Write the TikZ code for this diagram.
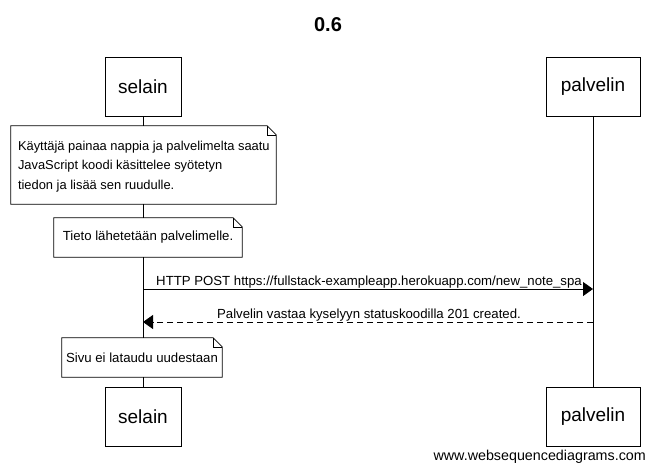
\documentclass[tikz,border=0pt]{standalone}
\usepackage{fontspec}
\setmainfont{Liberation Sans}
\usetikzlibrary{arrows.meta,calc}
\tikzset{
  actor/.style={draw, fill=white, line width=0.8pt, minimum width=76pt, minimum height=59pt, inner sep=0pt, font=\fontsize{19}{22}\selectfont},
  notebox/.style={fill=white, inner sep=0pt, font=\fontsize{13.2}{19.5}\selectfont},
  notetext/.style={inner sep=0pt, font=\fontsize{12.9}{19.5}\selectfont},
  lifeline/.style={line width=0.8pt},
  msg/.style={line width=0.8pt, -{Triangle[length=10pt,width=14pt]}},
  reply/.style={msg, dash pattern=on 6pt off 4pt},
  lbl/.style={font=\fontsize{13.2}{15}\selectfont, anchor=base, inner sep=0pt},
}
\newcommand{\notefold}[1]{%
  \draw[line width=0.8pt] (#1.north west) -- ($(#1.north east)+(-9,0)$) -- ($(#1.north east)+(0,9)$) -- (#1.south east) -- (#1.south west) -- cycle;
  \draw[line width=0.6pt] ($(#1.north east)+(-9,0)$) -- ($(#1.north east)+(-9,9)$) -- ($(#1.north east)+(0,9)$);
}
\begin{document}
\begin{tikzpicture}[x=1pt,y=-1pt]
\useasboundingbox[fill=white] (0,0) rectangle (655,471);
\node[font=\bfseries\fontsize{20}{22}\selectfont] (title) at (328,25) {0.6};
% actors
\node[actor] (s1) at (143,86.5) {selain};
\node[actor, minimum width=94pt] (p1) at (593,86.5) {palvelin};
\node[actor] (s2) at (143,416.5) {selain};
\node[actor, minimum width=94pt] (p2) at (593,416.5) {palvelin};
% lifelines
\draw[lifeline] (s1.south) -- (s2.north);
\draw[lifeline] (p1.south) -- (p2.north);
% note 1
\node[notebox, minimum width=265pt, minimum height=78pt] (n1) at (143.5,165) {};
\notefold{n1}
\node[notetext, anchor=west, align=left] (t1) at ($(n1.west)+(7,1.5)$)
  {Käyttäjä painaa nappia ja palvelimelta saatu\\JavaScript koodi käsittelee syötetyn\\tiedon ja lisää sen ruudulle.};
% note 2
\node[notebox, minimum width=188pt, minimum height=39pt] (n2) at (148,237.5) {Tieto lähetetään palvelimelle.};
\notefold{n2}
% messages
\coordinate (a1) at (143,289);
\coordinate (b1) at (593,289);
\draw[msg] (a1) -- (b1);
\node[lbl] (l1) at (369,285) {HTTP POST https://fullstack-exampleapp.herokuapp.com/new\_note\_spa};
\coordinate (a2) at (593,322);
\coordinate (b2) at (143,322);
\draw[reply] (a2) -- (b2);
\node[lbl] (l2) at (369,318) {Palvelin vastaa kyselyyn statuskoodilla 201 created.};
% note 3
\node[notebox, minimum width=160pt, minimum height=39pt] (n3) at (142,357.5) {Sivu ei lataudu uudestaan};
\notefold{n3}
% footer
\node[font=\fontsize{14.3}{16}\selectfont, anchor=base east, inner sep=0pt] (foot) at (646,460) {www.websequencediagrams.com};
\end{tikzpicture}
\end{document}
